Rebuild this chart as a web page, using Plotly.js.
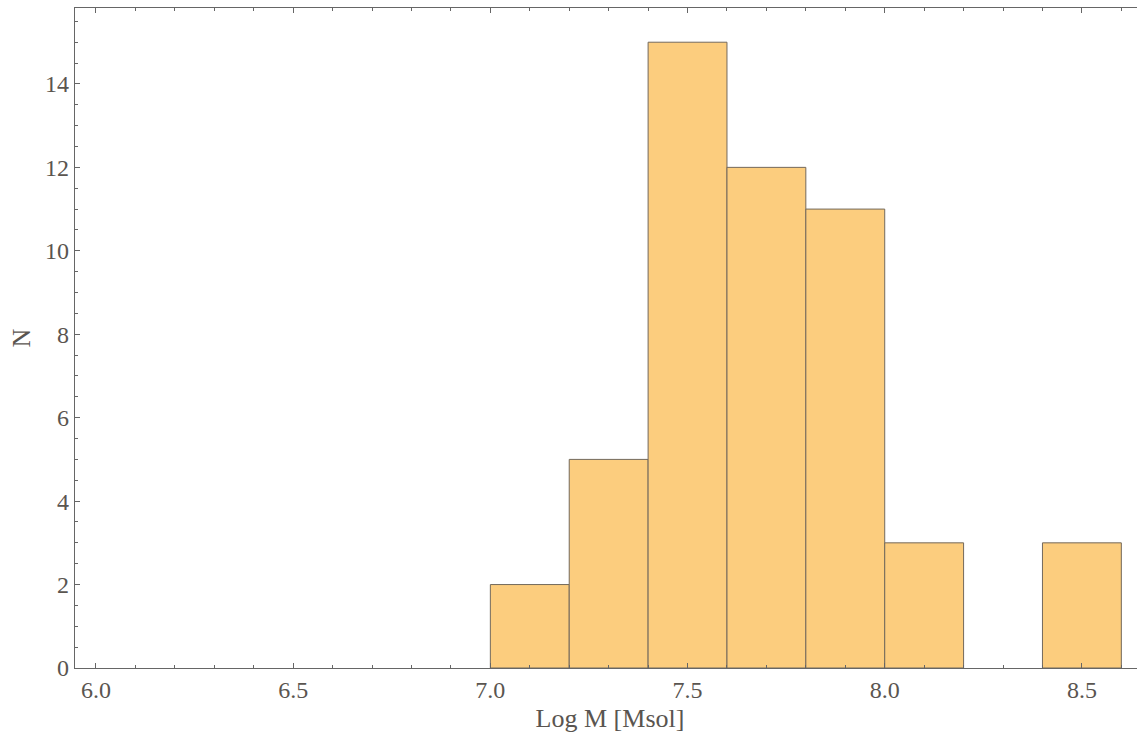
<!DOCTYPE html>
<html>
<head>
<meta charset="utf-8">
<script src="https://cdn.plot.ly/plotly-3.0.1.min.js"></script>
<style>
  html, body { margin: 0; padding: 0; overflow: hidden; background: #fff; }
  #chart { width: 1150px; height: 740px; }
</style>
</head>
<body>
<div id="chart"></div>
<script>
// Histogram of log black-hole masses: left bin edges and counts per bin
const binStarts = [7.0, 7.2, 7.4, 7.6, 7.8, 8.0, 8.2, 8.4];
const counts    = [2, 5, 15, 12, 11, 3, 0, 3];
const binWidth  = 0.2;

const xTickVals = [6.0, 6.5, 7.0, 7.5, 8.0, 8.5];
const yTickVals = [0, 2, 4, 6, 8, 10, 12, 14];

const serif = 'Liberation Serif, Times New Roman, serif';
const tickFont  = { family: serif, size: 24, color: '#5a5550' };
const titleFont = { family: serif, size: 26, color: '#5a5550' };
const frameColor = '#666';

const trace = {
  type: 'bar',
  x: binStarts,
  y: counts,
  width: binStarts.map(() => binWidth),
  offset: 0,
  marker: {
    color: 'rgb(252,205,126)',
    // empty bins get no outline so nothing is drawn over the axis
    line: { color: 'rgb(115,105,92)', width: counts.map(c => (c > 0 ? 1 : 0)) }
  },
  hoverinfo: 'x+y'
};

const layout = {
  width: 1150,
  height: 740,
  margin: { l: 75, r: 5, t: 8, b: 72 },
  paper_bgcolor: '#fff',
  plot_bgcolor: '#fff',
  showlegend: false,
  bargap: 0,
  xaxis: {
    range: [5.9468, 8.66],
    tickvals: xTickVals,
    ticktext: xTickVals.map(v => v.toFixed(1)),
    ticks: 'inside',
    ticklen: 5,
    tickwidth: 1,
    tickcolor: frameColor,
    minor: { dtick: 0.1, tick0: 0, ticks: 'inside', ticklen: 3, tickcolor: frameColor, tickwidth: 1 },
    showline: true,
    linecolor: frameColor,
    linewidth: 1.3,
    mirror: 'allticks',
    showgrid: false,
    zeroline: false,
    tickfont: tickFont,
    title: { text: 'Log M [Msol]', font: titleFont, standoff: 6 }
  },
  yaxis: {
    range: [0, 15.82],
    tickvals: yTickVals,
    ticks: 'inside',
    ticklen: 5,
    tickwidth: 1,
    tickcolor: frameColor,
    minor: { dtick: 0.5, tick0: 0, ticks: 'inside', ticklen: 3, tickcolor: frameColor, tickwidth: 1 },
    showline: true,
    linecolor: frameColor,
    linewidth: 1.3,
    mirror: 'allticks',
    showgrid: false,
    zeroline: false,
    tickfont: tickFont,
    title: { text: 'N', font: titleFont, standoff: 6 }
  }
};

Plotly.newPlot('chart', [trace], layout, { displayModeBar: false, staticPlot: true });
</script>
</body>
</html>
